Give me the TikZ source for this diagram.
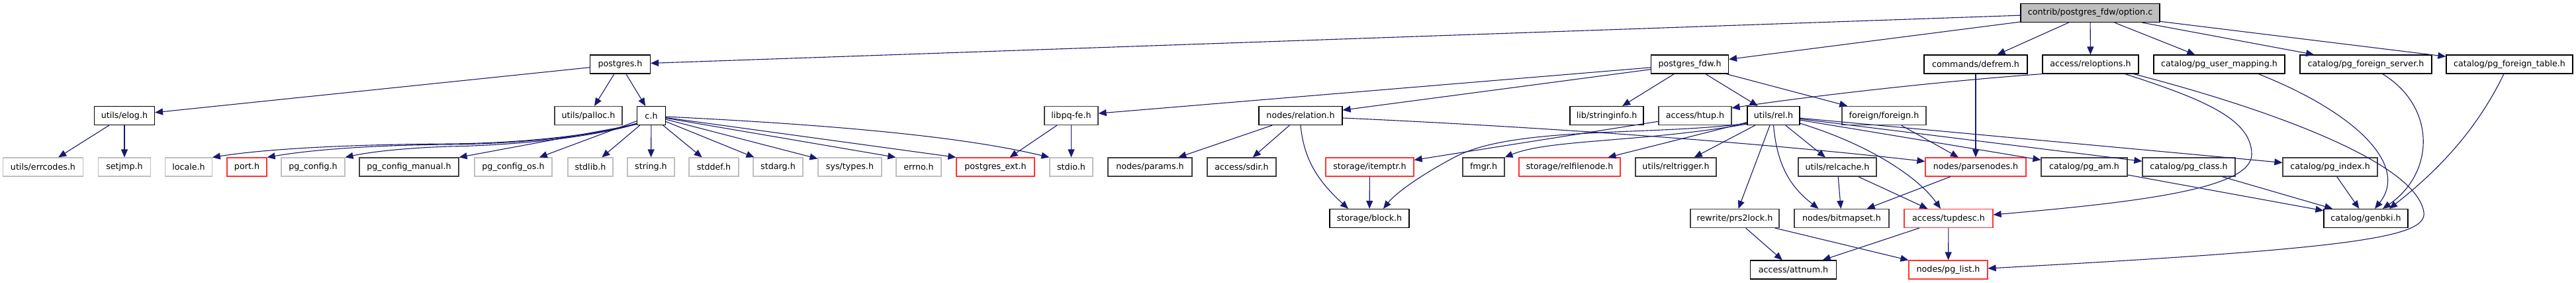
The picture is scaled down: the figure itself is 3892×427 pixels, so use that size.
\documentclass[tikz,border=0pt]{standalone}
\usepackage{fontspec}
\setmainfont{DejaVu Sans}
\usetikzlibrary{arrows.meta}
\definecolor{edgeblue}{HTML}{191970}
\definecolor{sysgrey}{HTML}{BFBFBF}
\definecolor{docgrey}{HTML}{404040}
\definecolor{cutred}{HTML}{FF3434}
\begin{document}
\begin{tikzpicture}[x=1pt,y=-1pt]
\tikzstyle{hfile} = [draw=black, fill=white, line width=1.2pt, minimum height=28pt, inner sep=0pt, font=\fontsize{12.7}{15}\selectfont]
\tikzstyle{sysfile} = [hfile, draw=sysgrey]
\tikzstyle{docfile} = [hfile, draw=docgrey]
\tikzstyle{cutfile} = [hfile, draw=cutred]
\tikzstyle{dep} = [draw=edgeblue, line width=1.1pt, -{Triangle[length=12pt,width=10pt]}]

\useasboundingbox (0,0) rectangle (3892,427);

\node[hfile, fill=sysgrey, minimum width=210pt] (option) at (3158,19.5) {contrib/postgres\_fdw/option.c};

\node[hfile, minimum width=91pt] (postgres) at (937,97) {postgres.h};
\node[hfile, minimum width=117pt] (pgfdw) at (2553,97) {postgres\_fdw.h};
\node[hfile, minimum width=156pt] (defrem) at (2985,97) {commands/defrem.h};
\node[hfile, minimum width=145pt] (reloptions) at (3158.5,97) {access/reloptions.h};
\node[hfile, minimum width=198pt] (usermap) at (3353,97) {catalog/pg\_user\_mapping.h};
\node[hfile, minimum width=199pt] (fserver) at (3574.5,97) {catalog/pg\_foreign\_server.h};
\node[hfile, minimum width=191pt] (ftable) at (3791.5,97) {catalog/pg\_foreign\_table.h};

\node[hfile, minimum width=91pt] (elog) at (188,174.5) {utils/elog.h};
\node[docfile, minimum width=102pt] (palloc) at (889,174.5) {utils/palloc.h};
\node[hfile, minimum width=43pt] (ch) at (984,174.5) {c.h};
\node[docfile, minimum width=81pt] (libpq) at (1618.5,174.5) {libpq-fe.h};
\node[hfile, minimum width=126pt] (relation) at (1965,174.5) {nodes/relation.h};
\node[hfile, minimum width=111pt] (stringinfo) at (2427.5,174.5) {lib/stringinfo.h};
\node[docfile, minimum width=110pt] (htup) at (2561,174.5) {access/htup.h};
\node[hfile, minimum width=79pt] (rel) at (2679.5,174.5) {utils/rel.h};
\node[docfile, minimum width=127pt] (foreign) at (2846.5,174.5) {foreign/foreign.h};

\node[sysfile, minimum width=120.5pt] (errcodes) at (65,252) {utils/errcodes.h};
\node[sysfile, minimum width=79pt] (setjmp) at (188,252) {setjmp.h};
\node[sysfile, minimum width=70.5pt] (locale) at (285,252) {locale.h};
\node[cutfile, minimum width=60pt] (port) at (373,252) {port.h};
\node[sysfile, minimum width=96pt] (pgconfig) at (473,252) {pg\_config.h};
\node[docfile, minimum width=150pt] (pgmanual) at (618,252) {pg\_config\_manual.h};
\node[sysfile, minimum width=117pt] (pgos) at (775.5,252) {pg\_config\_os.h};
\node[sysfile, minimum width=68pt] (stdlib) at (892,252) {stdlib.h};
\node[sysfile, minimum width=71pt] (string) at (983.5,252) {string.h};
\node[sysfile, minimum width=75pt] (stddef) at (1078.5,252) {stddef.h};
\node[sysfile, minimum width=75pt] (stdarg) at (1175.5,252) {stdarg.h};
\node[sysfile, minimum width=96pt] (systypes) at (1284,252) {sys/types.h};
\node[sysfile, minimum width=68pt] (errno) at (1388,252) {errno.h};
\node[cutfile, minimum width=118pt] (pgext) at (1504,252) {postgres\_ext.h};
\node[sysfile, minimum width=65pt] (stdio) at (1618.5,252) {stdio.h};
\node[docfile, minimum width=127pt] (params) at (1737.5,252) {nodes/params.h};
\node[docfile, minimum width=104pt] (sdir) at (1876,252) {access/sdir.h};
\node[cutfile, minimum width=133pt] (itemptr) at (2069.5,252) {storage/itemptr.h};
\node[docfile, minimum width=63pt] (fmgr) at (2241.5,252) {fmgr.h};
\node[cutfile, minimum width=153pt] (relfilenode) at (2371.5,252) {storage/relfilenode.h};
\node[docfile, minimum width=122pt] (reltrigger) at (2532,252) {utils/reltrigger.h};
\node[docfile, minimum width=118pt] (relcache) at (2776,252) {utils/relcache.h};
\node[cutfile, minimum width=152pt] (parsenodes) at (2985,252) {nodes/parsenodes.h};
\node[docfile, minimum width=130pt] (pgam) at (3149,252) {catalog/pg\_am.h};
\node[docfile, minimum width=140pt] (pgclass) at (3307,252) {catalog/pg\_class.h};
\node[docfile, minimum width=143pt] (pgindex) at (3520.5,252) {catalog/pg\_index.h};

\node[hfile, minimum width=120pt] (block) at (2069,329.5) {storage/block.h};
\node[docfile, minimum width=134pt] (prs2lock) at (2621,329.5) {rewrite/prs2lock.h};
\node[docfile, minimum width=143pt] (bitmapset) at (2782.5,329.5) {nodes/bitmapset.h};
\node[cutfile, minimum width=134pt] (tupdesc) at (2944,329.5) {access/tupdesc.h};
\node[hfile, minimum width=127pt] (genbki) at (3574.5,329.5) {catalog/genbki.h};

\node[hfile, minimum width=129.5pt] (attnum) at (2709.5,407) {access/attnum.h};
\node[cutfile, minimum width=119pt] (pglist) at (2943.5,407) {nodes/pg\_list.h};

% straight includes
\foreach \from/\to in {option/postgres, option/pgfdw, option/defrem, option/reloptions, option/usermap, option/fserver, option/ftable,
  postgres/elog, postgres/palloc, postgres/ch, elog/errcodes, elog/setjmp,
  ch/pgos, ch/stdlib, ch/string, ch/stddef, ch/stdarg, ch/systypes,
  pgfdw/libpq, pgfdw/relation, pgfdw/stringinfo, pgfdw/rel, pgfdw/foreign,
  libpq/pgext, libpq/stdio, relation/params, relation/sdir, htup/itemptr, itemptr/block,
  rel/reltrigger, rel/relfilenode, rel/relcache, rel/prs2lock, rel/pgam, rel/pgclass, rel/pgindex,
  foreign/parsenodes, defrem/parsenodes, parsenodes/bitmapset, relcache/bitmapset, relcache/tupdesc,
  prs2lock/attnum, prs2lock/pglist, tupdesc/attnum, tupdesc/pglist,
  pgam/genbki, pgclass/genbki, pgindex/genbki}
  \draw[dep] (\from) -- (\to);

\draw[dep] ([yshift=3pt]ch.south west) .. controls (890,206) and (780,216) .. (680,217) .. controls (520,218) and (400,225) .. (locale.north east);
\draw[dep] ([yshift=2.5pt]ch.south west) .. controls (890,207) and (780,217) .. (680,218) .. controls (560,219) and (470,226) .. (port.north east);
\draw[dep] ([yshift=2pt]ch.south west) .. controls (890,208) and (780,219) .. (680,221) .. controls (615,223) and (560,229) .. (pgconfig.north east);
\draw[dep] ([yshift=1.5pt]ch.south west) -- (pgmanual.north east);
\draw[dep] (ch) -- (errno.north west);
\draw[dep] (ch) -- (pgext.north west);
\draw[dep] ([yshift=-1.5pt]ch.east) .. controls (1250,188) and (1450,205) .. (stdio.north west);

\draw[dep] (relation.south) .. controls (1970,240) and (1990,272) .. ([xshift=-32pt]block.north);
\draw[dep] ([yshift=-3.5pt]relation.east) .. controls (2400,195) and (2700,220) .. ([yshift=8.5pt]parsenodes.west);

\draw[dep] ([yshift=3pt]rel.south west) .. controls (2500,205) and (2290,190) .. (2200,236) .. controls (2150,262) and (2110,290) .. ([xshift=21pt]block.north);
\draw[dep] ([yshift=2pt]rel.south west) .. controls (2480,215) and (2340,210) .. (fmgr.north east);
\draw[dep] (rel.south) .. controls (2685,250) and (2705,282) .. ([xshift=-35pt]bitmapset.north);
\draw[dep] ([yshift=3pt]rel.south east) .. controls (2830,220) and (2900,270) .. ([xshift=-12pt]tupdesc.north);

\draw[dep] (reloptions.south west) .. controls (2900,125) and (2700,150) .. ([yshift=11.5pt]htup.east);
\draw[dep] ([xshift=52pt]reloptions.south) .. controls (3330,150) and (3402,180) .. (3402,233) .. controls (3402,285) and (3230,305) .. ([yshift=5.5pt]tupdesc.east);
\draw[dep] ([xshift=65pt]reloptions.south) .. controls (3430,165) and (3650,245) .. (3662,320) .. controls (3668,358) and (3560,375) .. ([yshift=2pt]pglist.east);

\draw[dep] ([xshift=59pt]usermap.south) .. controls (3560,170) and (3640,250) .. ([xshift=13.5pt]genbki.north);
\draw[dep] ([xshift=25pt]fserver.south) .. controls (3680,160) and (3680,260) .. ([xshift=25.5pt]genbki.north);
\draw[dep] ([xshift=-8.5pt]ftable.south) .. controls (3740,200) and (3680,260) .. ([xshift=35.5pt]genbki.north);

\end{tikzpicture}
\end{document}
